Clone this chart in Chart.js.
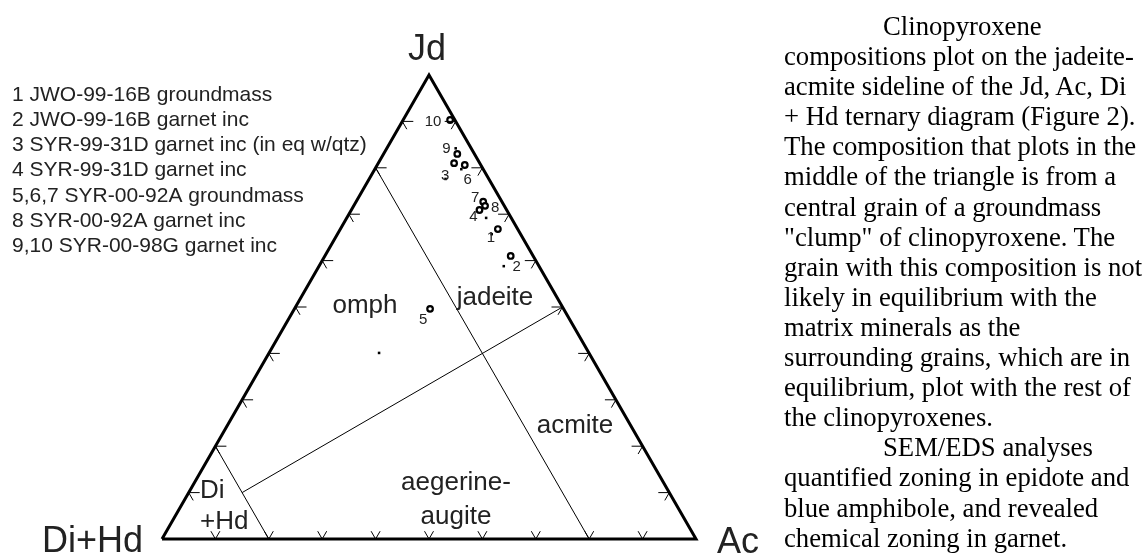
<!DOCTYPE html>
<html>
<head>
<meta charset="utf-8">
<script src="https://cdn.jsdelivr.net/npm/chart.js@4.4.1/dist/chart.umd.min.js"></script>
<style>
    body { margin: 0; background: #fff; width: 1143px; height: 556px; overflow: hidden; position: relative; }
    #chartBox { position: absolute; left: 0; top: 0; width: 1143px; height: 556px; }
    #text {
        position: absolute; left: 784px; top: 11px;
        font-family: 'Liberation Serif', 'Times New Roman', serif;
        font-size: 26.7px; line-height: 30.1px; color: #000; white-space: nowrap;
    }
    .ind { padding-left: 99px; }
</style>
</head>
<body>
<div id="chartBox"><canvas id="chart"></canvas></div>
<div id="text">
    <div class="ind">Clinopyroxene</div>
    <div>compositions plot on the jadeite-</div>
    <div>acmite sideline of the Jd, Ac, Di</div>
    <div>+ Hd ternary diagram (Figure 2).</div>
    <div>The composition that plots in the</div>
    <div>middle of the triangle is from a</div>
    <div>central grain of a groundmass</div>
    <div>"clump" of clinopyroxene. The</div>
    <div>grain with this composition is not</div>
    <div>likely in equilibrium with the</div>
    <div>matrix minerals as the</div>
    <div>surrounding grains, which are in</div>
    <div>equilibrium, plot with the rest of</div>
    <div>the clinopyroxenes.</div>
    <div class="ind">SEM/EDS analyses</div>
    <div>quantified zoning in epidote and</div>
    <div>blue amphibole, and revealed</div>
    <div>chemical zoning in garnet.</div>
</div>
<script>
// 샘플 목록 (범례)
const legendLines = [
    "1 JWO-99-16B groundmass",
    "2 JWO-99-16B garnet inc",
    "3 SYR-99-31D garnet inc (in eq w/qtz)",
    "4 SYR-99-31D garnet inc",
    "5,6,7 SYR-00-92A groundmass",
    "8 SYR-00-92A garnet inc",
    "9,10 SYR-00-98G garnet inc"
];

// 열린 원 (mol %): Jd, Ac  (Di+Hd = 100 - Jd - Ac)
const circleIds = ["1", "2", "3", "4", "5", "6", "7", "8", "9", "10"];
const circleJd = [66.8, 61.0, 81.0, 70.9, 49.6, 80.6, 72.7, 71.8, 83.0, 90.3];
const circleAc = [29.5, 34.8, 14.2, 24.0, 25.4, 16.4, 23.8, 24.6, 13.8, 8.8];

// 작은 점 (mol %)
const dotJd = [65.7, 58.8, 77.6, 69.2, 79.7, 84.2, 40.1];
const dotAc = [28.9, 34.6, 14.3, 26.1, 16.2, 12.9, 20.6];

// 경계선 [Jd, Ac] 시작 -> 끝
const quad20Line = [[80, 0], [0, 80]];
const quad80Line = [[20, 0], [0, 20]];
const jdAcLine = [[10, 10], [50, 50]];
const tickSteps = [10, 20, 30, 40, 50, 60, 70, 80, 90];

// 라벨 위치 (원 기준 픽셀 오프셋)
const labelOffsets = [[-7, 9], [6, 11], [-9, 13], [-6, 7], [-7, 11], [3, 15], [-8, -4], [10, 2], [-11, -5], [-17, 2]];

const H = Math.sqrt(3) / 2;
function ternX(jd, ac) { return (ac + jd / 2) / 100; }
function ternY(jd) { return jd / 100 * H; }
function toPts(jds, acs) { return jds.map((jd, i) => ({ x: ternX(jd, acs[i]), y: ternY(jd) })); }
function linePts(pair) { return pair.map(p => ({ x: ternX(p[0], p[1]), y: ternY(p[0]) })); }

const sans = '"Liberation Sans", Arial, sans-serif';

const annotate = {
    id: 'annotate',
    afterDatasetsDraw(chart) {
        const ctx = chart.ctx;
        const sx = chart.scales.x, sy = chart.scales.y;
        const px = (jd, ac) => [sx.getPixelForValue(ternX(jd, ac)), sy.getPixelForValue(ternY(jd))];
        const seg = (x, y, dx, dy) => { ctx.beginPath(); ctx.moveTo(x, y); ctx.lineTo(x + dx, y + dy); ctx.stroke(); };

        ctx.save();
        ctx.strokeStyle = '#000';
        ctx.lineWidth = 1;
        tickSteps.forEach(t => {
            let [x, y] = px(t, 0);          // 왼쪽 변
            seg(x, y, 11, 0); seg(x, y, 4.5, 7.8);
            [x, y] = px(t, 100 - t);        // 오른쪽 변
            seg(x, y, -11, 0); seg(x, y, -4.5, 7.8);
            [x, y] = px(0, t);              // 아래 변
            seg(x, y, -4.5, -7.8); seg(x, y, 4.5, -7.8);
        });

        ctx.fillStyle = '#222';
        ctx.textBaseline = 'alphabetic';

        // 꼭짓점 라벨
        ctx.font = '36px ' + sans;
        ctx.textAlign = 'center';
        ctx.fillText('Jd', 427, 60);
        ctx.textAlign = 'left';
        ctx.fillText('Di+Hd', 42, 552);
        ctx.fillText('Ac', 717, 553);

        // 영역 라벨
        ctx.font = '26px ' + sans;
        ctx.textAlign = 'center';
        ctx.fillText('omph', 365, 313);
        ctx.fillText('jadeite', 495, 305);
        ctx.fillText('acmite', 575, 433);
        ctx.fillText('aegerine-', 456, 490);
        ctx.fillText('augite', 456, 524);
        ctx.textAlign = 'left';
        ctx.fillText('Di', 200, 498);
        ctx.fillText('+Hd', 200, 529);

        // 범례
        ctx.font = '21px ' + sans;
        legendLines.forEach((s, i) => ctx.fillText(s, 12, 100.7 + 25.2 * i));

        // 점 번호
        ctx.font = '15px ' + sans;
        ctx.textAlign = 'center';
        ctx.textBaseline = 'middle';
        circleIds.forEach((id, i) => {
            const [x, y] = px(circleJd[i], circleAc[i]);
            ctx.fillText(id, x + labelOffsets[i][0], y + labelOffsets[i][1]);
        });
        ctx.restore();
    }
};

function lineSet(data, width) {
    return { type: 'line', data: data, borderColor: '#000', borderWidth: width, pointRadius: 0, fill: false, tension: 0, clip: false };
}

const ctx = document.getElementById('chart').getContext('2d');
new Chart(ctx, {
    type: 'scatter',
    data: {
        datasets: [
            lineSet(linePts([[0, 0], [100, 0], [0, 100], [0, 0]]), 3),
            lineSet(linePts(quad20Line), 1),
            lineSet(linePts(quad80Line), 1),
            lineSet(linePts(jdAcLine), 1),
            {
                label: 'dots',
                data: toPts(dotJd, dotAc),
                pointStyle: 'rect',
                pointRadius: 1.8,
                borderWidth: 0,
                backgroundColor: '#000',
                clip: false
            },
            {
                label: 'analyses',
                data: toPts(circleJd, circleAc),
                pointStyle: 'circle',
                pointRadius: 2.8,
                borderWidth: 2.2,
                borderColor: '#000',
                backgroundColor: '#fff',
                clip: false
            }
        ]
    },
    options: {
        responsive: true,
        maintainAspectRatio: false,
        animation: false,
        devicePixelRatio: 1,
        layout: { padding: { left: 162, right: 447, top: 75, bottom: 17 } },
        scales: {
            x: { type: 'linear', min: 0, max: 1, display: false },
            y: { type: 'linear', min: 0, max: H, display: false }
        },
        plugins: { legend: { display: false }, tooltip: { enabled: false } }
    },
    plugins: [annotate]
});
</script>
</body>
</html>
